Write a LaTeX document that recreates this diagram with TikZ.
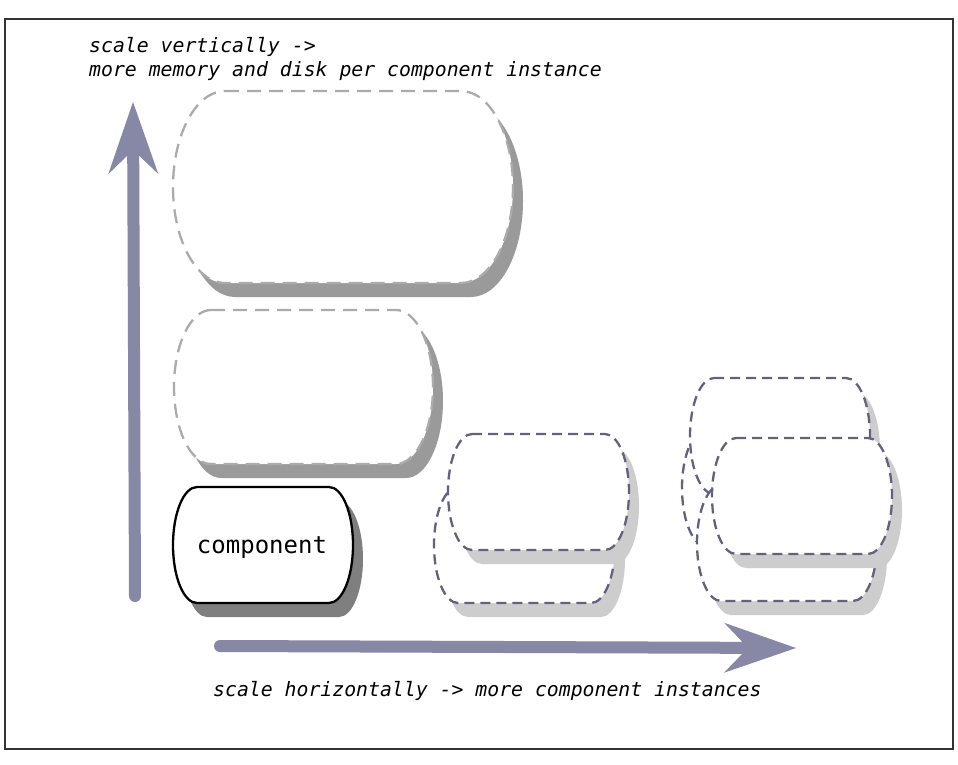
\documentclass[tikz,border=0pt]{standalone}
\usepackage{fontspec}
\usetikzlibrary{arrows.meta}
\newfontfamily\monofam{DejaVu Sans Mono}
\definecolor{arrowcol}{HTML}{8787A6}
\definecolor{instline}{HTML}{62627F}
\definecolor{vline}{HTML}{ABABAB}
\definecolor{shadowdark}{HTML}{7F7F7F}
\definecolor{shadowmid}{HTML}{9A9A9A}
\definecolor{shadowlight}{HTML}{CDCDCD}
\definecolor{framecol}{HTML}{333333}
% l t w h d
\newcommand\instpath[5]{%
 ({#1+#5},{#2}) -- ({#1+#3-#5},{#2})
 .. controls ({#1+#3-0.4477*#5},{#2}) and ({#1+#3},{#2+0.5*#4-0.27615*#4}) .. ({#1+#3},{#2+0.5*#4})
 .. controls ({#1+#3},{#2+0.5*#4+0.27615*#4}) and ({#1+#3-0.4477*#5},{#2+#4}) .. ({#1+#3-#5},{#2+#4})
 -- ({#1+#5},{#2+#4})
 .. controls ({#1+0.4477*#5},{#2+#4}) and ({#1},{#2+0.5*#4+0.27615*#4}) .. ({#1},{#2+0.5*#4})
 .. controls ({#1},{#2+0.5*#4-0.27615*#4}) and ({#1+0.4477*#5},{#2}) .. cycle}
\tikzset{
  sh/.style={xshift=10pt,yshift=-14pt},
  graydash/.style={draw=vline,fill=white,line width=2.3pt,dash pattern=on 14pt off 8pt},
  instdash/.style={draw=instline,fill=white,line width=2.3pt,dash pattern=on 10pt off 6pt},
  compline/.style={draw=black,fill=white,line width=2.3pt},
  arrowline/.style={draw=arrowcol,line width=12pt,line cap=round,
    -{Stealth[length=72pt,width=50pt,inset=24pt,line width=0pt]}},
  lbl/.style={font=\monofam\itshape\fontsize{19.8}{24}\selectfont,inner sep=0pt,anchor=base west},
}
\begin{document}
\begin{tikzpicture}[x=1pt,y=-1pt]
\useasboundingbox (0,0) rectangle (958,764);
\fill[white] (0,0) rectangle (958,764);
\draw[framecol,line width=2pt] (5,19) rectangle (953,749);

% vertical scaling
\fill[shadowmid,sh] \instpath{173}{91}{340}{192}{52};
\path[graydash] \instpath{173}{91}{340}{192}{52};
\fill[shadowmid,sh] \instpath{174}{310}{259}{154}{37};
\path[graydash] \instpath{174}{310}{259}{154}{37};

% component
\fill[shadowdark,sh] \instpath{173}{487}{180}{116}{24};
\path[compline] \instpath{173}{487}{180}{116}{24};
\node[font=\monofam\fontsize{24}{28}\selectfont,inner sep=0pt] (comp) at (262,548) {component};

% middle group
\fill[shadowlight,sh] \instpath{434}{487}{181}{116}{24};
\path[instdash] \instpath{434}{487}{181}{116}{24};
\fill[shadowlight,sh] \instpath{448}{434}{181}{116}{24};
\path[instdash] \instpath{448}{434}{181}{116}{24};

% right group
\fill[shadowlight,sh] \instpath{682}{430}{180}{116}{24};
\path[instdash] \instpath{682}{430}{180}{116}{24};
\fill[shadowlight,sh] \instpath{690}{378}{180}{116}{24};
\path[instdash] \instpath{690}{378}{180}{116}{24};
\fill[shadowlight,sh] \instpath{697}{485}{180}{116}{24};
\path[instdash] \instpath{697}{485}{180}{116}{24};
\fill[shadowlight,sh] \instpath{712}{438}{180}{116}{24};
\path[instdash] \instpath{712}{438}{180}{116}{24};

% arrows
\coordinate (vstart) at (135,596);
\coordinate (vend) at (133,102);
\draw[arrowline] (vstart) -- (vend);
\coordinate (hstart) at (220,646);
\coordinate (hend) at (796,648);
\draw[arrowline] (hstart) -- (hend);

% labels
\node[lbl] (vlab1) at (89,52) {scale vertically ->};
\node[lbl] (vlab2) at (89,76) {more memory and disk per component instance};
\node[lbl] (hlab) at (213,696) {scale horizontally -> more component instances};
\end{tikzpicture}
\end{document}
